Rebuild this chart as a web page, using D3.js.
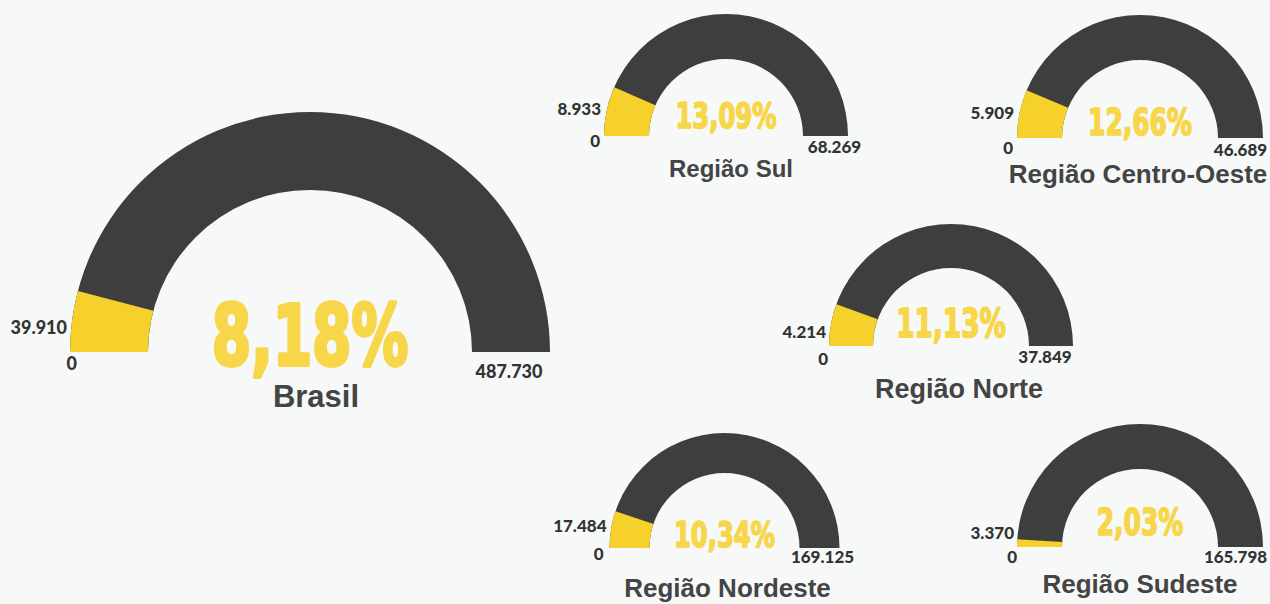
<!DOCTYPE html>
<html>
<head>
<meta charset="utf-8">
<script src="https://cdn.jsdelivr.net/npm/d3@7"></script>
<style>
  html, body { margin: 0; padding: 0; background: #f7f9f9; }
  svg { display: block; }
</style>
</head>
<body>
<svg width="1270" height="604"></svg>
<script>
// data
var regions = ["Brasil", "Região Sul", "Região Centro-Oeste", "Região Norte", "Região Nordeste", "Região Sudeste"];
var values  = [39910, 8933, 5909, 4214, 17484, 3370];
var totals  = [487730, 68269, 46689, 37849, 169125, 165798];

// where each gauge sits
var layout = [
  {cx: 310,   cy: 352, R: 240, r: 162, pctSize: 84, pctDy: 13,  valDy: -18, minDx: 7,  minDy: 18, maxDx: -2, maxDy: 26, titleDx: 6,  titleDy: 55, titleSize: 31, labelSize: 18},
  {cx: 726,   cy: 136, R: 122, r: 77,  pctSize: 36, pctDy: -8,  valDy: -21, minDx: -4, minDy: 11, maxDx: 9,  maxDy: 17, titleDx: 5,  titleDy: 41, titleSize: 24, labelSize: 17},
  {cx: 1140,  cy: 138, R: 123, r: 78,  pctSize: 37, pctDy: -3,  valDy: -19, minDx: -4, minDy: 16, maxDx: 0,  maxDy: 18, titleDx: -2, titleDy: 45, titleSize: 26, labelSize: 17},
  {cx: 951,   cy: 346, R: 122, r: 78,  pctSize: 39, pctDy: -9,  valDy: -8,  minDx: -1, minDy: 19, maxDx: -6, maxDy: 17, titleDx: 8,  titleDy: 52, titleSize: 27, labelSize: 17},
  {cx: 724.5, cy: 548, R: 115, r: 75,  pctSize: 36, pctDy: -1,  valDy: -16, minDx: -6, minDy: 12, maxDx: 3,  maxDy: 15, titleDx: 3,  titleDy: 49, titleSize: 26, labelSize: 17},
  {cx: 1140,  cy: 547, R: 123, r: 78,  pctSize: 37, pctDy: -12, valDy: -8,  minDx: 0,  minDy: 16, maxDx: -5, maxDy: 16, titleDx: 0,  titleDy: 46, titleSize: 26, labelSize: 17}
];

var svg = d3.select("svg");

var br = d3.formatLocale({decimal: ",", thousands: ".", grouping: [3], currency: ["R$", ""]});
var fmtInt = br.format(",d");
var fmtPct = br.format(".2%");

var labelFont = "Lato, 'Open Sans', sans-serif";
var pctFont = "'DejaVu Sans Condensed', 'DejaVu Sans', sans-serif";
var titleFont = "'Liberation Sans', Arial, sans-serif";

var gauges = regions.map(function(name, i) {
  return {name: name, value: values[i], total: totals[i], pos: layout[i]};
});

var g = svg.selectAll(".gauge").data(gauges).enter().append("g")
  .attr("class", "gauge")
  .attr("transform", function(d) { return "translate(" + [d.pos.cx, d.pos.cy] + ")"; });

g.each(function(d) {
  var el = d3.select(this);
  var p = d.pos;
  var angle = d3.scaleLinear().domain([0, d.total]).range([-Math.PI / 2, Math.PI / 2]);
  var arc = d3.arc().innerRadius(p.r).outerRadius(p.R);

  el.append("path")
    .attr("d", arc({startAngle: angle(0), endAngle: angle(d.total)}))
    .attr("fill", "#3e3e3e");

  el.append("path")
    .attr("d", arc({startAngle: angle(0), endAngle: angle(d.value)}))
    .attr("fill", "#f6d02b");

  // condensed, heavy look for the big percentage
  el.append("text")
    .attr("transform", "translate(0," + p.pctDy + ") scale(0.75,1)")
    .attr("text-anchor", "middle")
    .style("font-family", pctFont).style("font-weight", "bold")
    .style("font-size", p.pctSize + "px")
    .attr("fill", "#f8d64a")
    .attr("stroke", "#f8d64a")
    .attr("stroke-width", p.pctSize * 0.045)
    .attr("stroke-linejoin", "round")
    .text(fmtPct(d.value / d.total));

  el.append("text")
    .attr("x", -p.R - 3).attr("y", p.valDy)
    .attr("text-anchor", "end")
    .style("font-family", labelFont).style("font-weight", "900")
    .style("font-size", p.labelSize + "px")
    .attr("fill", "#333")
    .text(fmtInt(d.value));

  el.append("text")
    .attr("x", -p.R + p.minDx).attr("y", p.minDy)
    .attr("text-anchor", "end")
    .style("font-family", labelFont).style("font-weight", "900")
    .style("font-size", p.labelSize + "px")
    .attr("fill", "#333")
    .text(fmtInt(0));

  el.append("text")
    .attr("x", (p.R + p.r) / 2 + p.maxDx).attr("y", p.maxDy)
    .attr("text-anchor", "middle")
    .style("font-family", labelFont).style("font-weight", "900")
    .style("font-size", p.labelSize + "px")
    .attr("fill", "#333")
    .text(fmtInt(d.total));

  el.append("text")
    .attr("x", p.titleDx).attr("y", p.titleDy)
    .attr("text-anchor", "middle")
    .style("font-family", titleFont).style("font-weight", "bold")
    .style("font-size", p.titleSize + "px")
    .attr("fill", "#444")
    .text(d.name);
});
</script>
</body>
</html>
